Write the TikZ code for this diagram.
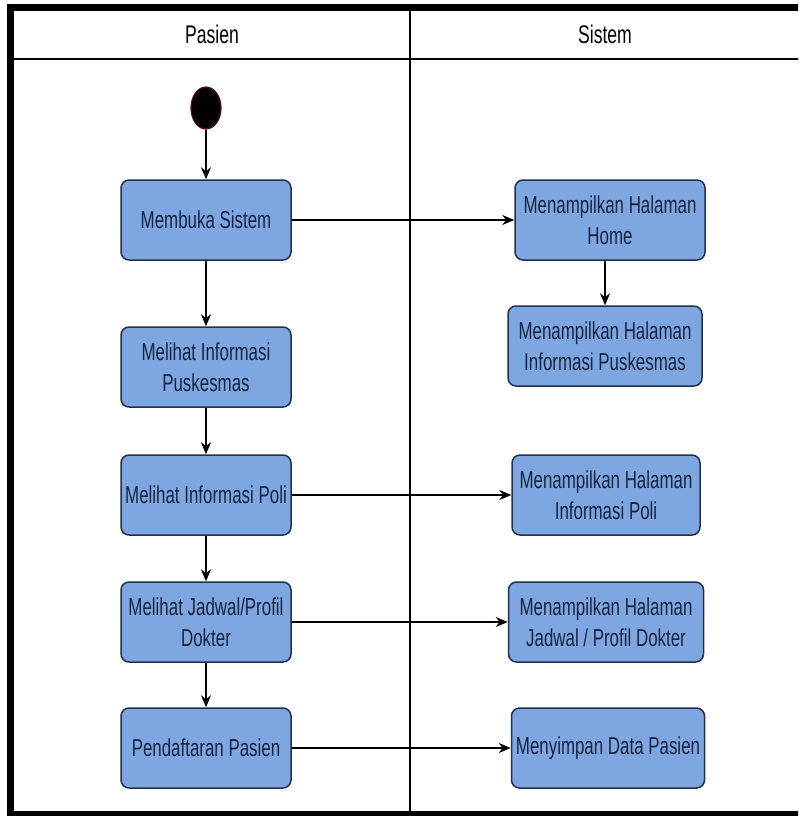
\documentclass[tikz,border=0pt]{standalone}
\usepackage{fontspec}
\setmainfont[FakeStretch=0.69]{Liberation Sans}
\usetikzlibrary{arrows.meta,shapes.geometric}
\definecolor{boxfill}{HTML}{7EA6E0}
\definecolor{boxline}{HTML}{24304A}
\definecolor{boxtext}{HTML}{18243F}
\definecolor{startred}{HTML}{5A0A14}
\begin{document}
\begin{tikzpicture}[x=1pt,y=-1pt,
  act/.style={rectangle, rounded corners=8pt, fill=boxfill, draw=boxline, line width=1.5pt,
    minimum height=80pt, align=center, text=boxtext, inner sep=1pt,
    font=\fontsize{24.5}{31.5}\selectfont},
  flow/.style={-{Stealth[length=12pt,width=10pt]}, line width=1.5pt, draw=black},
  lanehead/.style={font=\fontsize{25.5}{30}\selectfont, text=black, anchor=base},
  frame/.style={line width=7pt, draw=black},
  divider/.style={line width=2pt, draw=black}]
\useasboundingbox (0,0) rectangle (798,816);
\clip (0,0) rectangle (798,816);
% swimlane frame
\draw[frame] (830,8) -- (10.5,8) -- (10.5,814) -- (830,814);
\draw[divider] (10,59.5) -- (830,59.5);
\draw[divider] (410,8) -- (410,814);
\node[lanehead] (hpasien) at (212,44) {Pasien};
\node[lanehead] (hsistem) at (605,44) {Sistem};
% start
\node[ellipse, fill=black, draw=startred, line width=1.2pt, minimum width=30pt,
  minimum height=42pt, inner sep=0pt] (start) at (206,108) {};
% Pasien lane
\node[act, minimum width=170pt] (m1) at (206,220) {Membuka Sistem};
\node[act, minimum width=170pt] (m2) at (206,367) {Melihat Informasi\\Puskesmas};
\node[act, minimum width=170pt] (m3) at (206,495) {Melihat Informasi Poli};
\node[act, minimum width=170pt] (m4) at (206,622) {Melihat Jadwal/Profil\\Dokter};
\node[act, minimum width=170pt] (m5) at (206,748) {Pendaftaran Pasien};
% Sistem lane
\node[act, minimum width=190pt] (s1) at (610,220) {Menampilkan Halaman\\Home};
\node[act, minimum width=194pt] (s2) at (605,346) {Menampilkan Halaman\\Informasi Puskesmas};
\node[act, minimum width=188pt] (s3) at (606,495) {Menampilkan Halaman\\Informasi Poli};
\node[act, minimum width=195pt] (s4) at (606,622) {Menampilkan Halaman\\Jadwal / Profil Dokter};
\node[act, minimum width=193pt] (s5) at (608,748) {Menyimpan Data Pasien};
% flows
\draw[flow] (start) -- (m1);
\draw[flow] (m1) -- (m2);
\draw[flow] (m2) -- (m3);
\draw[flow] (m3) -- (m4);
\draw[flow] (m4) -- (m5);
\draw[flow] (m1) -- (s1);
\draw[flow] (s2.north |- s1.south) -- (s2.north);
\draw[flow] (m3) -- (s3);
\draw[flow] (m4) -- (s4);
\draw[flow] (m5) -- (s5);
\end{tikzpicture}
\end{document}
